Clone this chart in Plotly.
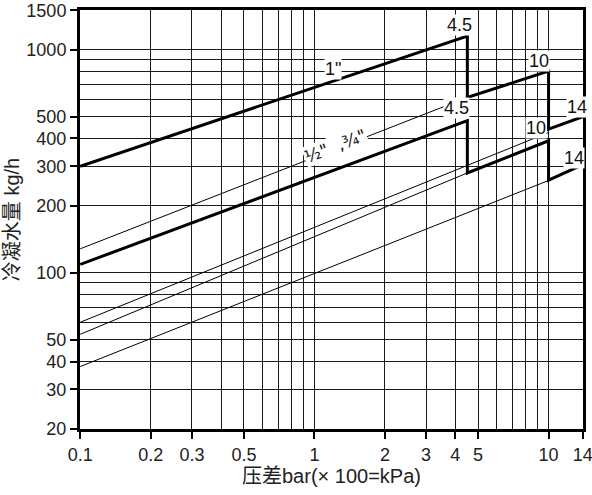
import numpy as np
import plotly.graph_objects as go

# pressure difference (bar) and condensate flow (kg/h)
dp_1in = [0.1, 4.5, 4.5, 10, 10, 14]
q_1in = [300, 1150, 610, 800, 440, 500]

dp_half = [0.1, 4.5, 4.5, 10, 10, 14]
q_half = [109, 480, 280, 390, 260, 305]

# thin extension lines (start, end)
thin_dp = [[0.1, 4.5], [0.1, 10], [0.1, 4.5], [0.1, 10]]
thin_q = [[128, 610], [60, 425], [53, 280], [38, 259]]

x_ticks = [0.1, 0.2, 0.3, 0.5, 1, 2, 3, 4, 5, 10, 14]
x_ticktext = ["0.1", "0.2", "0.3", "0.5", "1", "2", "3", "4", "5", "10", "14"]
x_minor = [0.4, 0.6, 0.7, 0.8, 0.9, 6, 7, 8, 9]
y_ticks = [20, 30, 40, 50, 100, 200, 300, 400, 500, 1000, 1500]
y_ticktext = ["20", "30", "40", "50", "100", "200", "300", "400", "500", "1000", "1500"]
y_minor = [60, 70, 80, 90, 600, 700, 800, 900]

# labels: text, x, y, angle
label_text = ["4.5", "10", "14", "4.5", "10", "14", '1"', '½"  ,¾"']
label_x = [4.16, 9.14, 13.2, 4.04, 8.87, 12.9, 1.2, 1.23]
label_y = [1290, 890, 555, 545, 445, 327, 820, 368]
label_angle = [0, 0, 0, 0, 0, 0, 0, -21]

FONT = "Liberation Sans, Arial, Noto Sans CJK SC, sans-serif"

fig = go.Figure()

for xs, ys in zip(thin_dp, thin_q):
    fig.add_trace(go.Scatter(x=xs, y=ys, mode="lines",
                             line=dict(color="black", width=1), showlegend=False))

fig.add_trace(go.Scatter(x=dp_1in, y=q_1in, mode="lines",
                         line=dict(color="black", width=3), showlegend=False))
fig.add_trace(go.Scatter(x=dp_half, y=q_half, mode="lines",
                         line=dict(color="black", width=3), showlegend=False))

for t, x, y, a in zip(label_text, label_x, label_y, label_angle):
    fam = "DejaVu Sans" if a else FONT
    fig.add_annotation(x=np.log10(x), y=np.log10(y), xref="x", yref="y",
                       text=t, showarrow=False, textangle=a,
                       font=dict(size=17 if a else 18, color="#111", family=fam),
                       bgcolor="white", borderpad=0)

fig.update_xaxes(type="log", range=[np.log10(0.1) - 0.001, np.log10(14) + 0.001],
                 tickvals=x_ticks, ticktext=x_ticktext, automargin=False,
                 ticklabeloverflow="allow",
                 ticks="outside", ticklen=7, tickwidth=1.5, tickcolor="black",
                 showgrid=True, gridcolor="#1a1a1a", gridwidth=1,
                 minor=dict(tickvals=x_minor, showgrid=True, gridcolor="#1a1a1a",
                            gridwidth=1, ticklen=0),
                 showline=True, linecolor="black", linewidth=3, mirror=True,
                 tickfont=dict(size=18, color="#222"),
                 title=dict(text="压差bar(× 100=kPa)", font=dict(size=20, color="#222"),
                            standoff=4))

fig.update_yaxes(type="log", range=[np.log10(20) - 0.001, np.log10(1500) + 0.001],
                 tickvals=y_ticks, ticktext=y_ticktext, automargin=False,
                 ticklabeloverflow="allow",
                 ticks="outside", ticklen=7, tickwidth=1.5, tickcolor="black",
                 showgrid=True, gridcolor="#1a1a1a", gridwidth=1,
                 minor=dict(tickvals=y_minor, showgrid=True, gridcolor="#1a1a1a",
                            gridwidth=1, ticklen=0),
                 showline=True, linecolor="black", linewidth=3, mirror=True,
                 tickfont=dict(size=18, color="#222"),
                 title=dict(text="冷凝水量 kg/h", font=dict(size=20, color="#222"),
                            standoff=2))

fig.update_layout(width=592, height=495,
                  margin=dict(l=80, r=9, t=10, b=66),
                  plot_bgcolor="white", paper_bgcolor="white",
                  font=dict(family=FONT, color="#222"))

# page has a default 8px body margin; drop it so the figure sits at the corner
fig.write_html("out.html", config={"displayModeBar": False},
               post_script="document.body.style.margin='0';")
